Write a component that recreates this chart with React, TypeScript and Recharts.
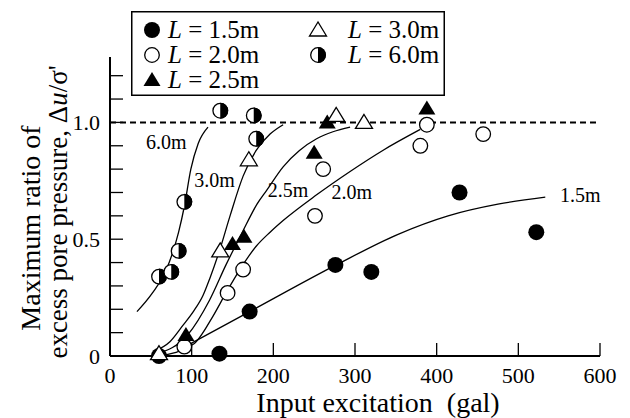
import {
  ComposedChart,
  Line,
  Scatter,
  XAxis,
  YAxis,
  Label,
  Legend,
  ReferenceLine,
  ReferenceDot,
} from 'recharts'

const FONT = '"Liberation Serif", "Times New Roman", serif'

// pile lengths, legend order
const lengths = ['1.5m', '2.0m', '2.5m', '3.0m', '6.0m']
const markerKinds = ['dot', 'ring', 'tri', 'openTri', 'half']

// measured points (input excitation in gal, max ratio du/sigma')
const obs15 = [
  { x: 60, y: 0 }, { x: 134, y: 0.01 }, { x: 171, y: 0.19 }, { x: 276, y: 0.39 },
  { x: 320, y: 0.36 }, { x: 428, y: 0.7 }, { x: 522, y: 0.53 },
]
const obs20 = [
  { x: 91, y: 0.04 }, { x: 144, y: 0.27 }, { x: 163, y: 0.37 }, { x: 251, y: 0.6 },
  { x: 261, y: 0.8 }, { x: 380, y: 0.9 }, { x: 388, y: 0.99 }, { x: 457, y: 0.95 },
]
const obs25 = [
  { x: 93, y: 0.09 }, { x: 150, y: 0.48 }, { x: 164, y: 0.51 }, { x: 250, y: 0.87 },
  { x: 266, y: 1.0 }, { x: 388, y: 1.06 },
]
const obs30 = [
  { x: 60, y: 0.01 }, { x: 135, y: 0.45 }, { x: 170, y: 0.84 }, { x: 277, y: 1.03 },
  { x: 311, y: 1.0 },
]
const obs60 = [
  { x: 60, y: 0.34 }, { x: 75, y: 0.36 }, { x: 84, y: 0.45 }, { x: 91, y: 0.66 },
  { x: 135, y: 1.05 }, { x: 176, y: 1.03 }, { x: 179, y: 0.93 },
]

// hand-drawn trend curves
const fit15 = [
  { x: 97, y: 0.05 }, { x: 171, y: 0.19 }, { x: 277, y: 0.39 }, { x: 352, y: 0.52 },
  { x: 414, y: 0.6 }, { x: 475, y: 0.65 }, { x: 533, y: 0.68 },
]
const fit20 = [
  { x: 60, y: 0 }, { x: 102, y: 0.05 }, { x: 126, y: 0.17 }, { x: 142, y: 0.27 },
  { x: 159, y: 0.37 }, { x: 179, y: 0.47 }, { x: 196, y: 0.53 }, { x: 212, y: 0.58 },
  { x: 253, y: 0.69 }, { x: 294, y: 0.79 }, { x: 334, y: 0.88 }, { x: 380, y: 0.97 },
]
const fit25 = [
  { x: 58, y: 0.01 }, { x: 95, y: 0.09 }, { x: 122, y: 0.24 }, { x: 142, y: 0.39 },
  { x: 162, y: 0.53 }, { x: 180, y: 0.65 }, { x: 192, y: 0.71 }, { x: 212, y: 0.81 },
  { x: 232, y: 0.88 }, { x: 253, y: 0.93 }, { x: 273, y: 0.96 }, { x: 294, y: 0.98 },
]
const fit30 = [
  { x: 54, y: 0.02 }, { x: 73, y: 0.06 }, { x: 89, y: 0.13 }, { x: 102, y: 0.19 },
  { x: 114, y: 0.26 }, { x: 122, y: 0.33 }, { x: 134, y: 0.45 }, { x: 147, y: 0.6 },
  { x: 163, y: 0.77 }, { x: 179, y: 0.88 }, { x: 196, y: 0.95 }, { x: 212, y: 0.99 },
]
const fit60 = [
  { x: 33, y: 0.19 }, { x: 52, y: 0.27 }, { x: 69, y: 0.37 }, { x: 84, y: 0.53 },
  { x: 91, y: 0.64 }, { x: 99, y: 0.8 }, { x: 108, y: 0.91 }, { x: 120, y: 0.98 },
]

// where the curve names sit (data units)
const curveLabels = [
  { text: '6.0m', x: 69, y: 0.918 },
  { text: '3.0m', x: 128, y: 0.754 },
  { text: '2.5m', x: 218, y: 0.711 },
  { text: '2.0m', x: 296, y: 0.704 },
  { text: '1.5m', x: 576, y: 0.69 },
]

const xTicks = [0, 100, 200, 300, 400, 500, 600]
const yTicks = [0, 0.1, 0.2, 0.3, 0.4, 0.5, 0.6, 0.7, 0.8, 0.9, 1.0, 1.1, 1.2]
const yTickLabels = ['0', '', '', '', '', '0.5', '', '', '', '', '1.0', '', '']

const observed = [obs15, obs20, obs25, obs30, obs60]
const fitted = [fit15, fit20, fit25, fit30, fit60]

const Marker = ({ kind, cx, cy }: { kind: string; cx: number; cy: number }) => {
  const r = 8
  if (kind === 'dot') return <circle cx={cx} cy={cy} r={r} fill="#000" />
  if (kind === 'ring')
    return <circle cx={cx} cy={cy} r={r - 0.7} fill="#fff" stroke="#000" strokeWidth={1.3} />
  if (kind === 'tri' || kind === 'openTri') {
    const pts = `${cx},${cy - 8} ${cx - 8.5},${cy + 6} ${cx + 8.5},${cy + 6}`
    return kind === 'tri' ? (
      <polygon points={pts} fill="#000" />
    ) : (
      <polygon points={pts} fill="#fff" stroke="#000" strokeWidth={1.3} strokeLinejoin="miter" />
    )
  }
  // half filled: right half black
  return (
    <g>
      <circle cx={cx} cy={cy} r={r - 0.7} fill="#fff" stroke="#000" strokeWidth={1.3} />
      <path d={`M${cx},${cy - r} A${r},${r} 0 0 1 ${cx},${cy + r} Z`} fill="#000" />
    </g>
  )
}

const LegendBox = () => (
  <svg width={314} height={85} style={{ display: 'block' }}>
    <rect x={0.75} y={0.75} width={312.5} height={83.5} fill="#fff" stroke="#000" strokeWidth={1.5} />
    {lengths.map((name, i) => {
      const col = i < 3 ? 0 : 1
      const row = i % 3
      const mx = col === 0 ? 21 : 187
      const tx = col === 0 ? 37 : 217
      const cy = 19 + row * 25
      return (
        <g key={name}>
          <Marker kind={markerKinds[i]} cx={mx} cy={cy} />
          <text x={tx} y={cy + 8} fontSize={25} fontFamily={FONT} fill="#000">
            <tspan fontStyle="italic">L</tspan> = {name}
          </text>
        </g>
      )
    })}
  </svg>
)

const YTitle = () => (
  <g fontFamily={FONT} fontSize={28} fill="#000">
    <text x={40} y={228} textAnchor="middle" transform="rotate(-90 40 228)">
      Maximum ratio of
    </text>
    <text x={67} y={212} textAnchor="middle" transform="rotate(-90 67 212)" fontSize={27}>
      excess pore pressure, Δ<tspan fontStyle="italic">u</tspan>/σ'
    </text>
  </g>
)

const XTitle = () => (
  <text x={378} y={412} textAnchor="middle" fontFamily={FONT} fontSize={28} fill="#000" style={{ whiteSpace: 'pre' }}>
    {'Input excitation  (gal)'}
  </text>
)

export default function App() {
  return (
    <div style={{ position: 'absolute', left: 0, top: 0, width: 630, height: 418, background: '#fff' }}>
      <ComposedChart width={630} height={418} margin={{ top: 57, right: 30, bottom: 32, left: 0 }}>
        <XAxis
          type="number"
          dataKey="x"
          domain={[0, 600]}
          ticks={xTicks}
          interval={0}
          height={30}
          tickSize={-13}
          tickMargin={24}
          axisLine={{ stroke: '#000', strokeWidth: 2 }}
          tickLine={{ stroke: '#000', strokeWidth: 1.3 }}
          tick={{ fill: '#000', fontSize: 22, fontFamily: FONT }}
        >
          <Label content={() => <XTitle />} />
        </XAxis>
        <YAxis
          type="number"
          dataKey="y"
          domain={[0, 1.28]}
          ticks={yTicks}
          interval={0}
          width={110}
          tickSize={-13}
          tickMargin={23}
          tickFormatter={(_v: number, i: number) => yTickLabels[i]}
          axisLine={{ stroke: '#000', strokeWidth: 2 }}
          tickLine={{ stroke: '#000', strokeWidth: 1.3 }}
          tick={{ fill: '#000', fontSize: 22, fontFamily: FONT }}
        >
          <Label content={() => <YTitle />} />
        </YAxis>
        <ReferenceLine y={1} stroke="#000" strokeWidth={2} strokeDasharray="6 4" />
        {fitted.map((d, i) => (
          <Line
            key={'fit' + i}
            data={d}
            dataKey="y"
            type="monotone"
            stroke="#000"
            strokeWidth={1.3}
            dot={false}
            activeDot={false}
            isAnimationActive={false}
          />
        ))}
        {observed.map((d, i) => (
          <Scatter
            key={'obs' + i}
            data={d}
            dataKey="y"
            isAnimationActive={false}
            shape={(p: any) => <Marker kind={markerKinds[i]} cx={p.cx} cy={p.cy} />}
          />
        ))}
        {curveLabels.map((c) => (
          <ReferenceDot
            key={c.text}
            x={c.x}
            y={c.y}
            r={0}
            stroke="none"
            fill="none"
            label={{ value: c.text, position: 'center', fontSize: 20, fill: '#000', fontFamily: FONT }}
          />
        ))}
        <Legend
          layout="horizontal"
          verticalAlign="middle"
          align="center"
          content={() => <LegendBox />}
          wrapperStyle={{ position: 'absolute', left: 131, top: 11, width: 314, height: 85 }}
        />
      </ComposedChart>
    </div>
  )
}
